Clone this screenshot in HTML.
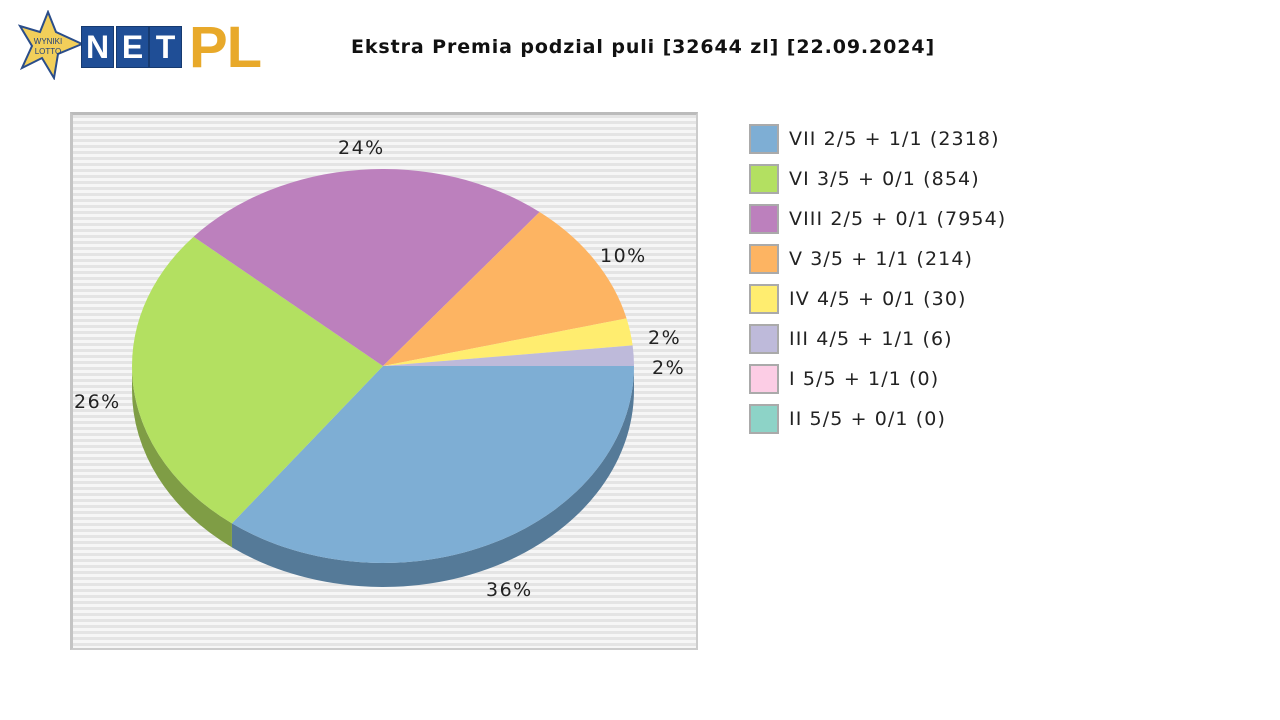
<!DOCTYPE html>
<html><head><meta charset="utf-8"><style>
body{margin:0;width:1280px;height:720px;background:#fff;position:relative;overflow:hidden;font-family:"DejaVu Sans","Liberation Sans",sans-serif;}
.t{position:absolute;white-space:nowrap;}
#plot{position:absolute;left:70px;top:112px;width:623px;height:533px;border-top:3px solid #bbb;border-left:3px solid #c4c4c4;border-right:2px solid #ccc;border-bottom:2px solid #ccc;
background:repeating-linear-gradient(to bottom,#e4e4e4 0,#e4e4e4 3px,#f6f6f6 3px,#f6f6f6 6px);}
.lb{position:absolute;left:749px;width:26px;height:26px;border:2px solid #aaa;}
.lt{position:absolute;left:789px;font-size:19px;color:#222;letter-spacing:1.1px;}
.pl{font-size:19px;color:#222;letter-spacing:1.5px;}
.box{position:absolute;top:26px;width:31px;height:40px;background:#1f4e96;border:1px solid #163a70;color:#fff;font:bold 32px "Liberation Sans",sans-serif;text-align:center;line-height:40px;}
</style></head><body>
<svg style="position:absolute;left:18px;top:10px" width="70" height="70" viewBox="0 0 70 70">
<polygon points="30,2 38,22 64,34 40,44 36,68 24,48 4,58 14,36 2,16 22,22" fill="#f2cf5a" stroke="#2a4d8a" stroke-width="2"/>
<text x="30" y="34" font-size="8" text-anchor="middle" fill="#1f3f7a" font-family="Liberation Sans">WYNIKI</text>
<text x="30" y="44" font-size="8" text-anchor="middle" fill="#1f3f7a" font-family="Liberation Sans">LOTTO</text>
</svg>
<div class="box" style="left:81px">N</div>
<div class="box" style="left:116px">E</div>
<div class="box" style="left:149px">T</div>
<div class="t" style="left:189px;top:14px;font:bold 58px 'Liberation Sans',sans-serif;color:#e8a92a;letter-spacing:-1px">PL</div>
<div class="t" style="left:351px;top:36px;font-weight:bold;font-size:19px;color:#111;letter-spacing:0.9px">Ekstra Premia podzial puli [32644 zl] [22.09.2024]</div>
<div id="plot"></div>
<svg id="pie" style="position:absolute;left:0;top:0" width="1280" height="720"></svg>
<div class="t pl" style="left:338px;top:137px">24%</div>
<div class="t pl" style="left:600px;top:245px">10%</div>
<div class="t pl" style="left:648px;top:327px">2%</div>
<div class="t pl" style="left:652px;top:357px">2%</div>
<div class="t pl" style="left:74px;top:391px">26%</div>
<div class="t pl" style="left:486px;top:579px">36%</div>
<div class="lb" style="top:124px;background:#7eaed4"></div><div class="lt" style="top:128px">VII 2/5 + 1/1 (2318)</div>
<div class="lb" style="top:164px;background:#b3e061"></div><div class="lt" style="top:168px">VI 3/5 + 0/1 (854)</div>
<div class="lb" style="top:204px;background:#bc80bd"></div><div class="lt" style="top:208px">VIII 2/5 + 0/1 (7954)</div>
<div class="lb" style="top:244px;background:#fdb462"></div><div class="lt" style="top:248px">V 3/5 + 1/1 (214)</div>
<div class="lb" style="top:284px;background:#ffed6f"></div><div class="lt" style="top:288px">IV 4/5 + 0/1 (30)</div>
<div class="lb" style="top:324px;background:#bebada"></div><div class="lt" style="top:328px">III 4/5 + 1/1 (6)</div>
<div class="lb" style="top:364px;background:#fccde5"></div><div class="lt" style="top:368px">I 5/5 + 1/1 (0)</div>
<div class="lb" style="top:404px;background:#8dd3c7"></div><div class="lt" style="top:408px">II 5/5 + 0/1 (0)</div>
<script>
var cx=383,cy=366,rx=251,ry=197,d=24;
var a=[0,127,221,308.6,346,354,360];
var c=["#7eaed4","#b3e061","#bc80bd","#fdb462","#ffed6f","#bebada"];
var sd=["#557a98","#7f9d45"];
function P(t,dy){t=t*Math.PI/180;return [(cx+rx*Math.cos(t)).toFixed(2),(cy+ry*Math.sin(t)+(dy||0)).toFixed(2)];}
var s="";
for(var i=0;i<2;i++){var t1=a[i],t2=Math.min(a[i+1],180);
var p1=P(t1),p2=P(t2),q2=P(t2,d),q1=P(t1,d);
s+='<path d="M'+p1+' A'+rx+' '+ry+' 0 0 1 '+p2+' L'+q2+' A'+rx+' '+ry+' 0 0 0 '+q1+' Z" fill="'+sd[i]+'"/>';}
for(var i=0;i<6;i++){var p1=P(a[i]),p2=P(a[i+1]);var lg=(a[i+1]-a[i])>180?1:0;
s+='<path d="M'+cx+','+cy+' L'+p1+' A'+rx+' '+ry+' 0 '+lg+' 1 '+p2+' Z" fill="'+c[i]+'"/>';}
document.getElementById('pie').innerHTML=s;
</script>
</body></html>
